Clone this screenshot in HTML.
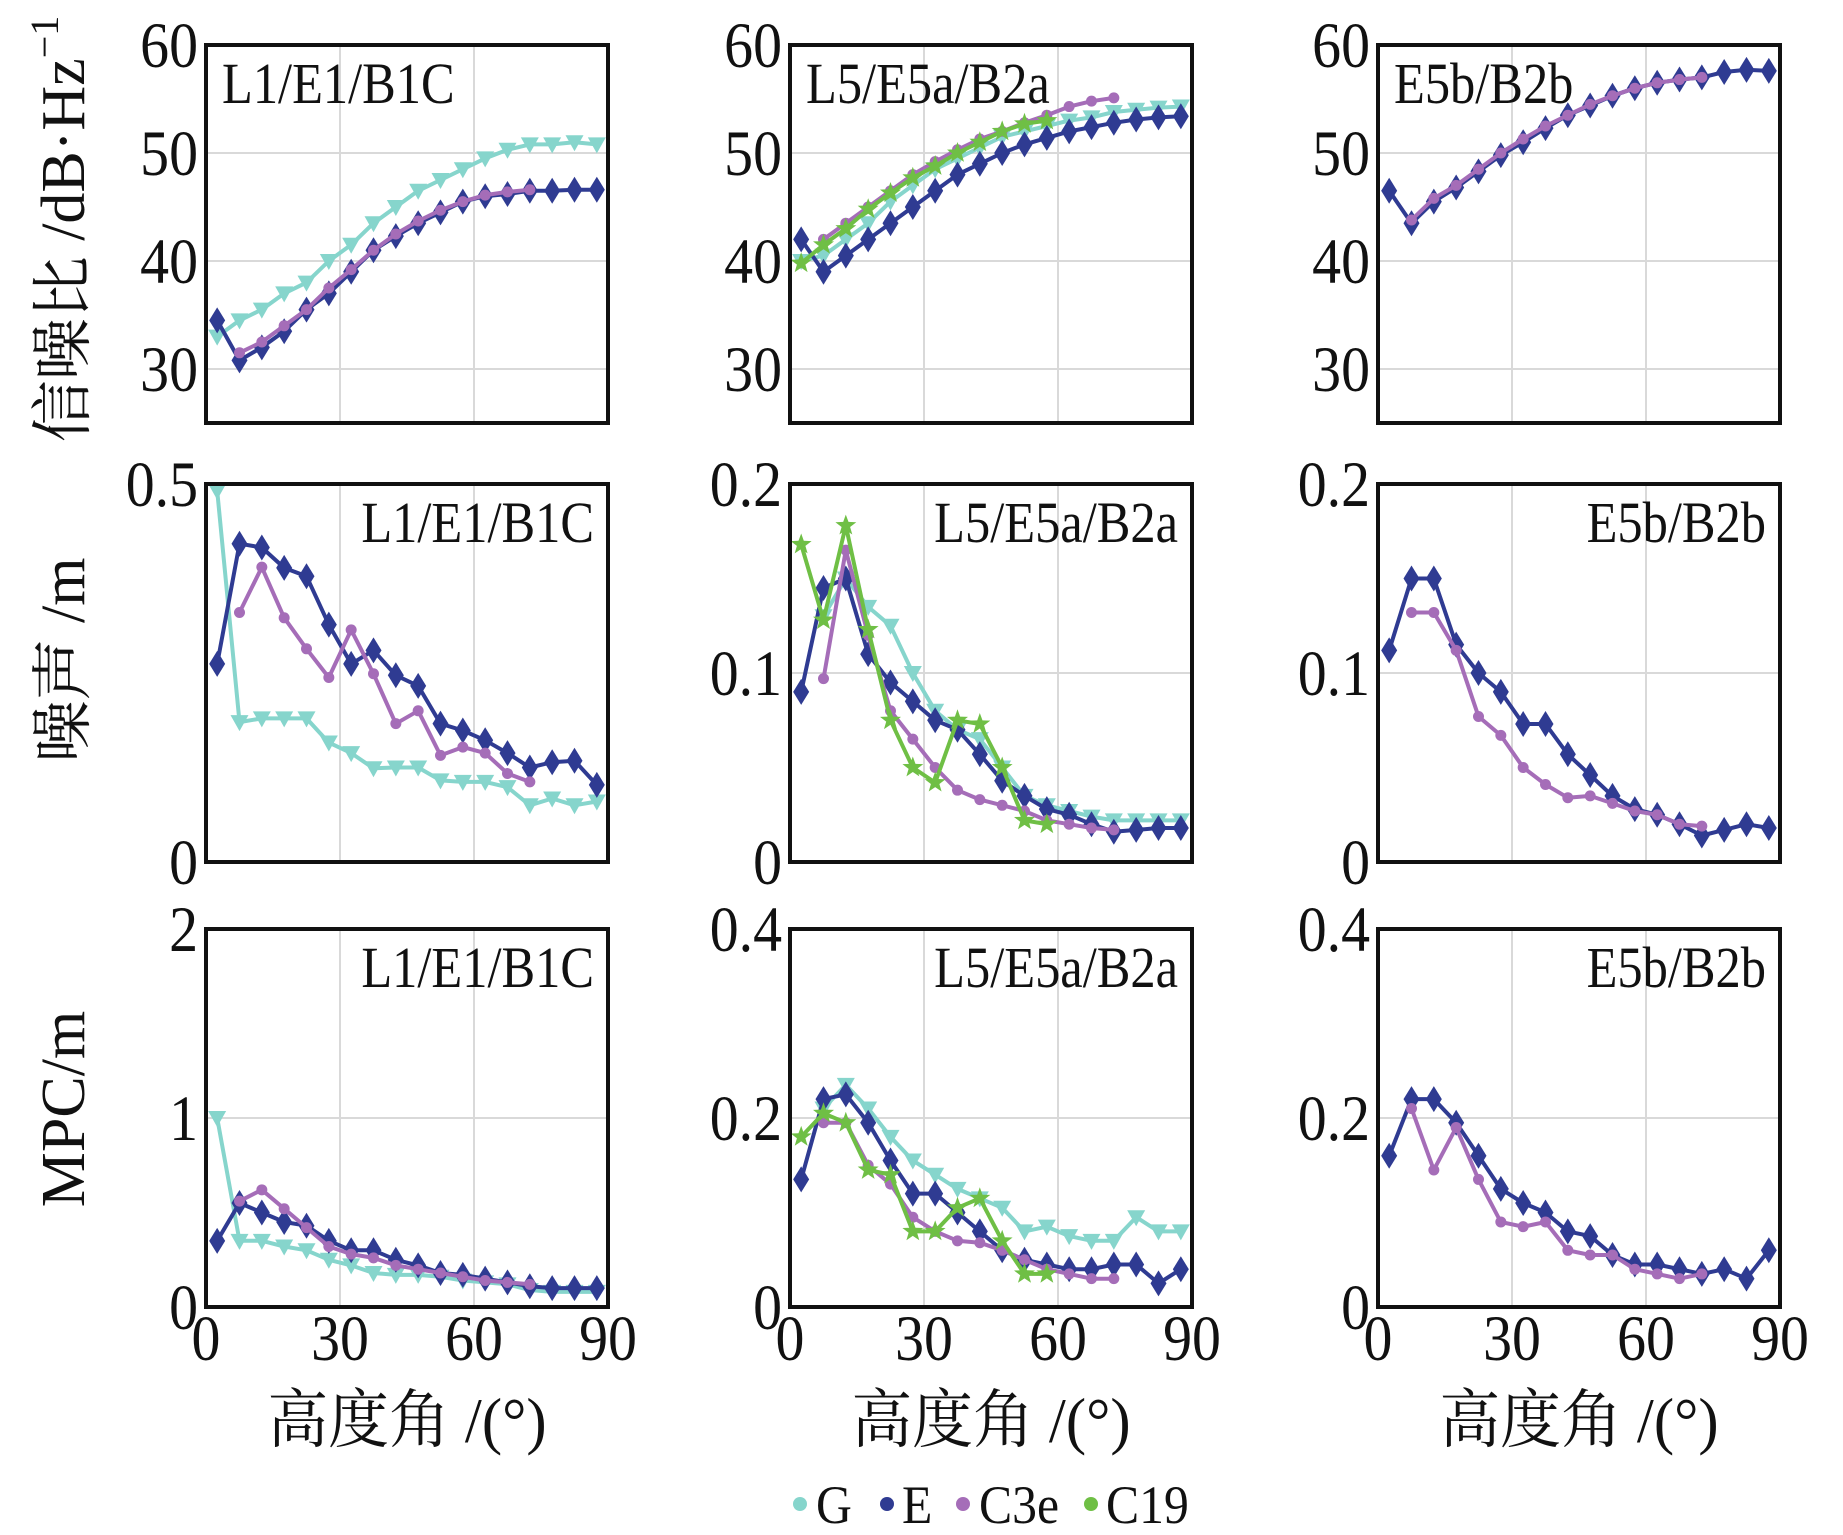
<!DOCTYPE html>
<html><head><meta charset="utf-8"><style>
html,body{margin:0;padding:0;background:#fff;}
svg{display:block;font-family:"Liberation Serif","Noto Serif CJK SC",serif;}
</style></head><body>
<svg id="chart" width="1843" height="1535" viewBox="0 0 1843 1535" xmlns="http://www.w3.org/2000/svg"></svg>
<script>
const xDeg = [2.5,7.5,12.5,17.5,22.5,27.5,32.5,37.5,42.5,47.5,52.5,57.5,62.5,67.5,72.5,77.5,82.5,87.5];
const snr1_G = [33,34.5,35.5,37,38,40,41.5,43.5,45,46.5,47.5,48.5,49.5,50.3,50.8,50.8,51,50.8];
const snr1_E = [34.5,30.8,32,33.5,35.5,37,39,41,42.3,43.5,44.5,45.5,46,46.2,46.5,46.5,46.6,46.6];
const snr1_C3e = [31.5,32.5,34,35.5,37.5,39.2,41,42.5,43.7,44.7,45.5,46.1,46.4,46.6];
const snr2_G = [40,40.5,42,43.5,45.5,47,48.5,49.5,50.5,51.5,52,52.5,53,53.3,53.8,54,54.2,54.3];
const snr2_E = [42,39,40.5,42,43.5,45,46.5,48,49,50,50.8,51.4,52,52.4,52.8,53.1,53.3,53.4];
const snr2_C3e = [42,43.5,45,46.5,48,49.2,50.3,51.3,52,52.8,53.5,54.3,54.8,55.1];
const snr2_C19 = [39.8,41.5,43,44.8,46.3,47.7,48.8,50,51,52,52.7,53];
const snr3_E = [46.5,43.5,45.5,46.8,48.3,49.8,51,52.3,53.5,54.4,55.3,56,56.5,56.8,57,57.5,57.7,57.6];
const snr3_C3e = [43.8,45.8,47,48.5,50,51.3,52.5,53.5,54.5,55.3,56,56.5,56.8,57];
const noi1_G = [0.491,0.185,0.19,0.19,0.19,0.158,0.144,0.124,0.125,0.125,0.108,0.106,0.106,0.099,0.075,0.084,0.075,0.08];
const noi1_E = [0.262,0.421,0.416,0.389,0.378,0.314,0.262,0.28,0.247,0.233,0.183,0.174,0.161,0.144,0.125,0.132,0.134,0.102];
const noi1_C3e = [0.33,0.39,0.323,0.282,0.244,0.307,0.249,0.183,0.2,0.141,0.152,0.144,0.117,0.106];
const noi2_G = [0.13,0.15,0.135,0.125,0.1,0.08,0.07,0.065,0.05,0.035,0.03,0.027,0.024,0.022,0.022,0.022,0.022];
const noi2_E = [0.09,0.145,0.15,0.11,0.095,0.085,0.075,0.07,0.057,0.043,0.035,0.028,0.025,0.02,0.016,0.017,0.018,0.018];
const noi2_C3e = [0.097,0.165,0.12,0.08,0.065,0.05,0.038,0.033,0.03,0.027,0.022,0.02,0.018,0.017];
const noi2_C19 = [0.168,0.128,0.178,0.123,0.075,0.05,0.042,0.075,0.073,0.05,0.022,0.02];
const noi3_E = [0.112,0.15,0.15,0.115,0.1,0.09,0.073,0.073,0.057,0.046,0.035,0.028,0.025,0.02,0.014,0.017,0.02,0.018];
const noi3_C3e = [0.132,0.132,0.112,0.077,0.067,0.05,0.041,0.034,0.035,0.031,0.027,0.025,0.02,0.019];
const mpc1_G = [1.0,0.35,0.35,0.32,0.3,0.25,0.22,0.18,0.17,0.17,0.16,0.14,0.13,0.12,0.09,0.08,0.08,0.08];
const mpc1_E = [0.35,0.55,0.5,0.45,0.43,0.35,0.3,0.3,0.25,0.22,0.18,0.17,0.15,0.13,0.11,0.1,0.1,0.1];
const mpc1_C3e = [0.56,0.62,0.52,0.42,0.32,0.28,0.26,0.22,0.2,0.18,0.16,0.14,0.13,0.12];
const mpc2_G = [0.21,0.235,0.21,0.18,0.155,0.14,0.125,0.115,0.105,0.08,0.085,0.075,0.07,0.07,0.095,0.08,0.08];
const mpc2_E = [0.135,0.22,0.225,0.195,0.155,0.12,0.12,0.1,0.08,0.06,0.05,0.045,0.04,0.04,0.045,0.045,0.025,0.04];
const mpc2_C3e = [0.195,0.195,0.15,0.13,0.095,0.08,0.07,0.068,0.06,0.05,0.04,0.035,0.03,0.03];
const mpc2_C19 = [0.18,0.205,0.195,0.145,0.14,0.08,0.08,0.105,0.115,0.07,0.035,0.035];
const mpc3_E = [0.16,0.22,0.22,0.195,0.16,0.125,0.11,0.1,0.08,0.075,0.055,0.045,0.045,0.04,0.035,0.04,0.03,0.06];
const mpc3_C3e = [0.21,0.145,0.19,0.135,0.09,0.085,0.09,0.06,0.055,0.055,0.04,0.035,0.03,0.035];
const xTicks = [0,30,60,90];
const snrTicks = [30,40,50,60];
const noi1Ticks = [0,0.5];
const noi23Ticks = [0,0.1,0.2];
const mpc1Ticks = [0,1,2];
const mpc23Ticks = [0,0.2,0.4];
const legendLabels = ["G","E","C3e","C19"];

const COL = {G:"#86d5cc",E:"#2f3b92",C3e:"#a56db8",C19:"#6fbf45"};
const NS = "http://www.w3.org/2000/svg";
const svg = document.getElementById("chart");
function mk(tag, attrs, parent){const e=document.createElementNS(NS,tag);for(const k in attrs)e.setAttribute(k,attrs[k]);(parent||svg).appendChild(e);return e;}
function txt(parent,x,y,s,size,anchor,sx){
  const t=mk("text",{x:0,y:0,transform:`translate(${x},${y}) scale(${sx},1)`,"font-size":size,"text-anchor":anchor,fill:"#111"},parent);
  t.textContent=s;return t;
}

const colsL=[206,790,1378], rowsT=[45,484,929], W=402, H=378;
const panels=[
 {r:0,c:0,ymin:25,ymax:60,ticks:snrTicks,lab:["30","40","50","60"],title:"L1/E1/B1C",left:true,s:[["G",snr1_G,0],["E",snr1_E,0],["C3e",snr1_C3e,1]]},
 {r:0,c:1,ymin:25,ymax:60,ticks:snrTicks,lab:["30","40","50","60"],title:"L5/E5a/B2a",left:true,s:[["G",snr2_G,0],["E",snr2_E,0],["C3e",snr2_C3e,1],["C19",snr2_C19,0]]},
 {r:0,c:2,ymin:25,ymax:60,ticks:snrTicks,lab:["30","40","50","60"],title:"E5b/B2b",left:true,s:[["E",snr3_E,0],["C3e",snr3_C3e,1]]},
 {r:1,c:0,ymin:0,ymax:0.5,ticks:noi1Ticks,lab:["0","0.5"],title:"L1/E1/B1C",s:[["G",noi1_G,0],["E",noi1_E,0],["C3e",noi1_C3e,1]]},
 {r:1,c:1,ymin:0,ymax:0.2,ticks:noi23Ticks,lab:["0","0.1","0.2"],title:"L5/E5a/B2a",s:[["G",noi2_G,1],["E",noi2_E,0],["C3e",noi2_C3e,1],["C19",noi2_C19,0]]},
 {r:1,c:2,ymin:0,ymax:0.2,ticks:noi23Ticks,lab:["0","0.1","0.2"],title:"E5b/B2b",s:[["E",noi3_E,0],["C3e",noi3_C3e,1]]},
 {r:2,c:0,ymin:0,ymax:2,ticks:mpc1Ticks,lab:["0","1","2"],title:"L1/E1/B1C",s:[["G",mpc1_G,0],["E",mpc1_E,0],["C3e",mpc1_C3e,1]]},
 {r:2,c:1,ymin:0,ymax:0.4,ticks:mpc23Ticks,lab:["0","0.2","0.4"],title:"L5/E5a/B2a",s:[["G",mpc2_G,1],["E",mpc2_E,0],["C3e",mpc2_C3e,1],["C19",mpc2_C19,0]]},
 {r:2,c:2,ymin:0,ymax:0.4,ticks:mpc23Ticks,lab:["0","0.2","0.4"],title:"E5b/B2b",s:[["E",mpc3_E,0],["C3e",mpc3_C3e,1]]}
];

function marker(g,k,x,y){
  let m;
  if(k==="G"){m=mk("polygon",{points:`${x-9},${y-7} ${x+9},${y-7} ${x},${y+9}`,fill:COL.G},g);}
  else if(k==="E"){m=mk("polygon",{points:`${x},${y-13} ${x+8},${y} ${x},${y+13} ${x-8},${y}`,fill:COL.E},g);}
  else if(k==="C3e"){m=mk("circle",{cx:x,cy:y,r:5.5,fill:COL.C3e},g);}
  else {
    const p=[];for(let i=0;i<10;i++){const a=-Math.PI/2+i*Math.PI/5,rr=i%2?4.5:11;p.push((x+rr*Math.cos(a)).toFixed(1)+","+(y+rr*Math.sin(a)).toFixed(1));}
    m=mk("polygon",{points:p.join(" "),fill:COL.C19},g);
  }
  
  
}

panels.forEach((P)=>{
  const L=colsL[P.c], T=rowsT[P.r];
  const xs=v=>L+v/90*W, ys=v=>T+H-(v-P.ymin)/(P.ymax-P.ymin)*H;
  const g=mk("g",{});
  
  
  [30,60].forEach(v=>{const l=mk("line",{x1:xs(v),x2:xs(v),y1:T,y2:T+H,stroke:"#d9d9d9","stroke-width":2},g);});
  P.ticks.forEach(v=>{if(v>P.ymin&&v<P.ymax){const l=mk("line",{x1:L,x2:L+W,y1:ys(v),y2:ys(v),stroke:"#d9d9d9","stroke-width":2},g);}});
  P.s.forEach(([k,vals,off])=>{
    const sg=mk("g",{},g);
    
    
    const pts=vals.map((v,i)=>xs(xDeg[i+off]).toFixed(1)+","+ys(v).toFixed(1)).join(" ");
    mk("polyline",{points:pts,fill:"none",stroke:COL[k],"stroke-width":4,"stroke-linejoin":"round"},sg);
    vals.forEach((v,i)=>marker(sg,k,xs(xDeg[i+off]),ys(v)));
  });
  const fr=mk("rect",{x:L,y:T,width:W,height:H,fill:"none",stroke:"#111","stroke-width":4},g);
  
  P.ticks.forEach((v,i)=>{const t=txt(g,L-8,ys(v)+22,P.lab[i],65,"end",0.89);});
  if(P.r===2){
    xTicks.forEach(v=>{const t=txt(g,xs(v),1360,String(v),65,"middle",0.89);});
    const xt=txt(g,L+W/2,1442,"高度角 /(°)",64,"middle",0.95);
    
  }
  const tt=P.left?txt(g,L+16,T+58,P.title,58,"start",0.87):txt(g,L+W-14,T+58,P.title,58,"end",0.87);
  
});

[["信噪比 /dB·Hz",229,"snr-axis-title"],["噪声 /m",660,"noise-axis-title"],["MPC/m",1109,"mpc-axis-title"]].forEach(([s,cy,n])=>{
  const t=mk("text",{x:0,y:0,transform:`translate(84,${cy}) rotate(-90)`,"text-anchor":"middle","font-size":62,fill:"#111"});
  t.textContent=s;
  if(n==="snr-axis-title"){const sp=mk("tspan",{dy:-26,"font-size":40},t);sp.textContent="−1";}
  
  
});

const lg=mk("g",{});


const legDotX=[800,887,963,1091], legTxtX=[816,902,979,1106];
legendLabels.forEach((k,i)=>{
  const c=mk("circle",{cx:legDotX[i],cy:1504,r:7,fill:COL[k]},lg);
  
  const t=txt(lg,legTxtX[i],1523,k,54,"start",0.92);
  
});
</script>
</body></html>
